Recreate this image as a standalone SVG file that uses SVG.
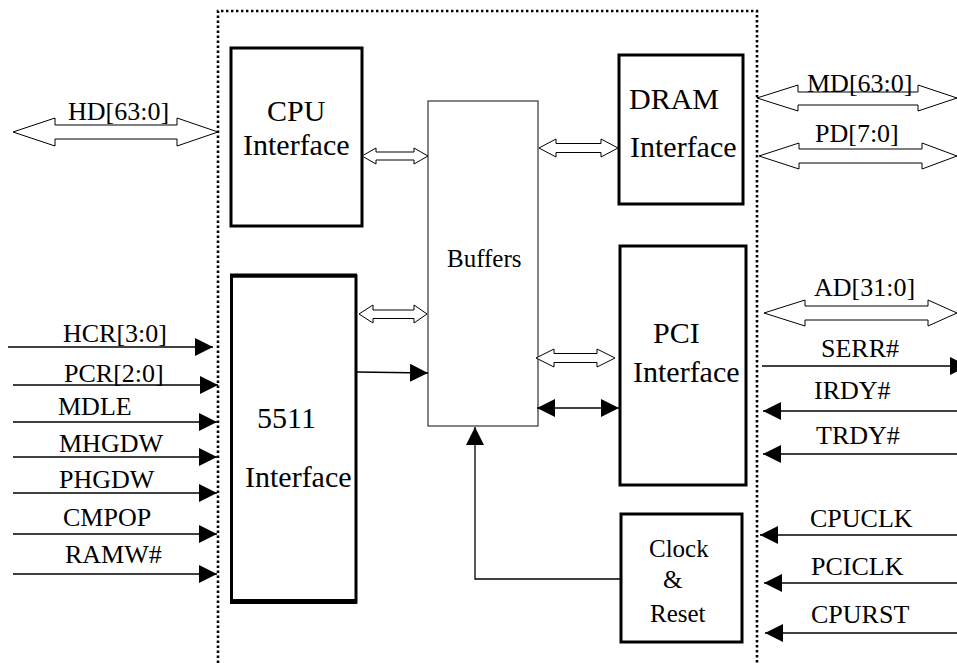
<svg xmlns="http://www.w3.org/2000/svg" width="957" height="663" viewBox="0 0 957 663">
<style>
text{font-family:"Liberation Serif","Times New Roman",serif;fill:#000}
.big{font-size:30px}
.mid{font-size:25px}
.lbl{font-size:26px}
.box{fill:#fff;stroke:#000;stroke-width:3}
.thin{fill:#fff;stroke:#333;stroke-width:1.2}
.hol{fill:#fff;stroke:#000;stroke-width:1}
.ln{fill:none;stroke:#000;stroke-width:1.3}
</style>
<defs>
<marker id="ah" markerUnits="userSpaceOnUse" markerWidth="20" markerHeight="20" refX="18" refY="9" orient="auto-start-reverse" viewBox="0 0 20 20">
<path d="M0,0 L18,9 L0,18 Z" fill="#000"/>
</marker>
</defs>
<rect width="957" height="663" fill="#fff"/>
<path id="border" d="M218,663 L218,11 L757,11 L757,663" fill="none" stroke="#000" stroke-width="2.6" stroke-dasharray="2.4 2.6"/>

<g id="cpu">
<rect class="box" x="231" y="48" width="131" height="178" stroke-width="2.5"/>
<text class="big" x="267" y="121">CPU</text>
<text class="big" x="243" y="155">Interface</text>
</g>
<g id="buffers">
<rect class="thin" x="428" y="101" width="110" height="325"/>
<text class="mid" x="447" y="267">Buffers</text>
</g>
<g id="dram">
<rect class="box" x="619" y="55" width="124" height="149"/>
<text class="big" x="629" y="109">DRAM</text>
<text class="big" x="630" y="157">Interface</text>
</g>
<g id="pci">
<rect class="box" x="620" y="246" width="126" height="239"/>
<text class="big" x="653" y="343">PCI</text>
<text class="big" x="633" y="382">Interface</text>
</g>
<g id="i5511">
<rect class="box" x="231.5" y="276" width="124.5" height="326"/>
<line x1="230" y1="275.5" x2="357" y2="275.5" stroke="#000" stroke-width="4"/>
<line x1="230" y1="601.5" x2="357" y2="601.5" stroke="#000" stroke-width="5"/>
<text class="big" x="257" y="428">5511</text>
<text class="big" x="245" y="487">Interface</text>
</g>
<g id="clock">
<rect class="box" x="621" y="514" width="121" height="128"/>
<text class="mid" x="649" y="557">Clock</text>
<text class="mid" x="663" y="588">&amp;</text>
<text class="mid" x="650" y="622">Reset</text>
</g>

<g id="connectors">
<polygon class="hol" points="13,132 55,118 55,125 177,125 177,118 218,132 177,146 177,139 55,139 55,146"/>
<polygon class="hol" points="362,156 376,148 376,152 414,152 414,148 428,156 414,164 414,160 376,160 376,164"/>
<polygon class="hol" points="539,148 556,139 556,143.5 601,143.5 601,139 618,148 601,157 601,152.5 556,152.5 556,157"/>
<polygon class="hol" points="757,98 798,85 798,92 918,92 918,85 957,98 918,111 918,105 798,105 798,111"/>
<polygon class="hol" points="759,156 799,143 799,149 922,149 922,143 957,156 922,169 922,163 799,163 799,169"/>
<polygon class="hol" points="764,313 805,300 805,306 928,306 928,300 957,313 928,326 928,320 805,320 805,326"/>
<polygon class="hol" points="359,314 373,305 373,310 414,310 414,305 427,314 414,323 414,318.5 373,318.5 373,323"/>
<polygon class="hol" points="536,358 554,349 554,353.5 597,353.5 597,349 615,358 597,367 597,362.5 554,362.5 554,367"/>

<line class="ln" x1="357" y1="372" x2="428" y2="373" marker-end="url(#ah)"/>
<line class="ln" x1="537" y1="408" x2="619" y2="408" marker-start="url(#ah)" marker-end="url(#ah)"/>
<polyline class="ln" points="620,579 475,579 475,427" marker-end="url(#ah)"/>

<line class="ln" x1="8" y1="347" x2="213" y2="347" marker-end="url(#ah)"/>
<line class="ln" x1="13" y1="385" x2="218" y2="385" marker-end="url(#ah)"/>
<line class="ln" x1="13" y1="422" x2="217" y2="422" marker-end="url(#ah)"/>
<line class="ln" x1="13" y1="457" x2="217" y2="457" marker-end="url(#ah)"/>
<line class="ln" x1="13" y1="493" x2="217" y2="493" marker-end="url(#ah)"/>
<line class="ln" x1="13" y1="534" x2="217" y2="534" marker-end="url(#ah)"/>
<line class="ln" x1="13" y1="574" x2="217" y2="574" marker-end="url(#ah)"/>

<line class="ln" x1="762" y1="366" x2="968" y2="366" marker-end="url(#ah)"/>
<line class="ln" x1="957" y1="411" x2="763" y2="411" marker-end="url(#ah)"/>
<line class="ln" x1="957" y1="454" x2="763" y2="454" marker-end="url(#ah)"/>
<line class="ln" x1="957" y1="535" x2="760" y2="535" marker-end="url(#ah)"/>
<line class="ln" x1="957" y1="583" x2="764" y2="583" marker-end="url(#ah)"/>
<line class="ln" x1="957" y1="633" x2="765" y2="633" marker-end="url(#ah)"/>

<text class="lbl" x="68" y="120">HD[63:0]</text>
<text class="lbl" x="807" y="92">MD[63:0]</text>
<text class="lbl" x="815" y="142">PD[7:0]</text>
<text class="lbl" x="814" y="296">AD[31:0]</text>
<text class="lbl" x="63" y="342">HCR[3:0]</text>
<text class="lbl" x="64" y="382">PCR[2:0]</text>
<text class="lbl" x="58" y="415">MDLE</text>
<text class="lbl" x="59" y="452">MHGDW</text>
<text class="lbl" x="59" y="488">PHGDW</text>
<text class="lbl" x="63" y="526">CMPOP</text>
<text class="lbl" x="65" y="563">RAMW#</text>
<text class="lbl" x="821" y="357">SERR#</text>
<text class="lbl" x="814" y="399">IRDY#</text>
<text class="lbl" x="816" y="444">TRDY#</text>
<text class="lbl" x="810" y="527">CPUCLK</text>
<text class="lbl" x="811" y="575">PCICLK</text>
<text class="lbl" x="811" y="623">CPURST</text>
</g>
</svg>
